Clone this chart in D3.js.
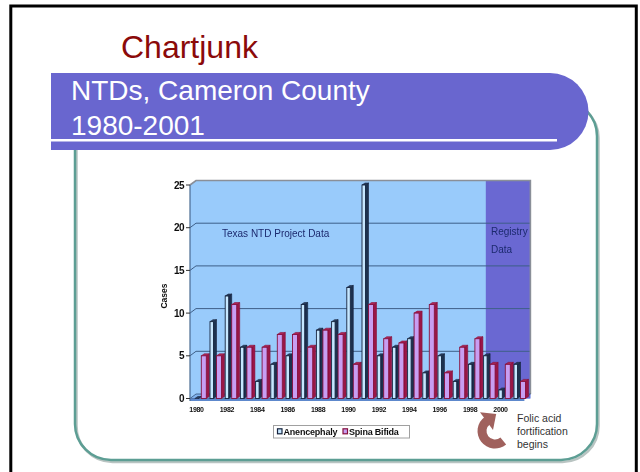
<!DOCTYPE html>
<html>
<head>
<meta charset="utf-8">
<script src="https://cdn.jsdelivr.net/npm/d3@7"></script>
<style>
  html, body { margin: 0; padding: 0; background: #fff; }
  svg { display: block; }
</style>
</head>
<body>
<svg id="chart" width="640" height="472"></svg>
<script>
// Neural tube defect cases, Cameron County, Texas
const years = ["1980","1981","1982","1983","1984","1985","1986","1987","1988","1989","1990",
               "1991","1992","1993","1994","1995","1996","1997","1998","1999","2000","2001"];
const anencephaly = [0, 9, 12, 6, 2, 4, 5, 11, 8, 9, 13, 25, 5, 6, 7, 3, 5, 2, 4, 5, 1, 4];
const spinaBifida = [5, 5, 11, 6, 6, 7.5, 7.5, 6, 8, 7.5, 4, 11, 7, 6.5, 10, 11, 3, 6, 7, 4, 4, 2];
const yTicks = [0, 5, 10, 15, 20, 25];
const xTickLabels = ["1980","1982","1984","1986","1988","1990","1992","1994","1996","1998","2000"];
const registryStart = "1999";
const seriesNames = ["Anencephaly", "Spina Bifida"];

(function draw() {
const FONT = "'Liberation Sans', Arial, Helvetica, sans-serif";
const svg = d3.select("#chart");

const defs = svg.append("defs");
defs.append("filter").attr("id", "soft")
  .attr("x", "-5%").attr("y", "-5%").attr("width", "110%").attr("height", "110%")
  .append("feGaussianBlur").attr("stdDeviation", 0.4);

// ---- slide frame ----
svg.append("path")
  .attr("d", "M10.8,472 V6 H636.3 V472")
  .attr("fill", "none").attr("stroke", "#000").attr("stroke-width", 3);

// rounded content frame (shadow + teal line)
svg.append("rect")
  .attr("x", 76.5).attr("y", 102).attr("width", 522).attr("height", 360).attr("rx", 36)
  .attr("fill", "none").attr("stroke", "#b9c4c2").attr("stroke-width", 2.5);
svg.append("rect")
  .attr("x", 75).attr("y", 100).attr("width", 522).attr("height", 360).attr("rx", 36)
  .attr("fill", "none").attr("stroke", "#5d9e94").attr("stroke-width", 2.5);

// title banner
svg.append("path")
  .attr("d", "M51,73 H550 A38.5,38.5 0 0 1 550,150 H51 Z")
  .attr("fill", "#6966cf");
svg.append("rect").attr("x", 51).attr("y", 139).attr("width", 506).attr("height", 2.5).attr("fill", "#fff");

svg.append("text").attr("x", 71).attr("y", 100)
  .attr("font-family", FONT).attr("font-size", 28).attr("fill", "#fff")
  .text("NTDs, Cameron County");
svg.append("text").attr("x", 71).attr("y", 135)
  .attr("font-family", FONT).attr("font-size", 28).attr("fill", "#fff")
  .text("1980-2001");

svg.append("text").attr("x", 121).attr("y", 58)
  .attr("font-family", FONT).attr("font-size", 32).attr("fill", "#8b0a0a")
  .text("Chartjunk");

// ---- chart ----
const g = svg.append("g").attr("filter", "url(#soft)");

const x = d3.scaleBand().domain(years).range([190, 190 + years.length * 15.2]).padding(0);
const y = d3.scaleLinear().domain([0, 25]).range([398.5, 185]);
const DX = 6, DY = -4.5;          // back-wall offset
const wallL = x.range()[0], wallR = x.range()[1] + DX;
const wallT = y(25) + DY, y0 = y(0);

// back wall + side wall
g.append("polygon")
  .attr("points", [[wallL, y0], [wallL, y(25)], [wallL + DX, wallT], [wallR, wallT], [wallR, y0]].join(" "))
  .attr("fill", "#99cbfb");

// registry period shading
const regX = x(registryStart) + 7;
g.append("rect").attr("x", regX).attr("y", wallT).attr("width", wallR - regX).attr("height", y0 - wallT)
  .attr("fill", "#6a68d2");

// gridlines on the wall
g.selectAll("path.grid").data(yTicks.filter(v => v > 0 && v < 25)).join("path")
  .attr("class", "grid")
  .attr("d", v => `M${wallL},${y(v)} L${wallL + DX},${y(v) + DY} H${wallR}`)
  .attr("fill", "none").attr("stroke", "#3e5f88").attr("stroke-width", 1);
g.append("path")
  .attr("d", `M${wallL},${y(25)} L${wallL + DX},${wallT} H${wallR} V${y0 + DY}`)
  .attr("fill", "none").attr("stroke", "#8a8f98").attr("stroke-width", 1.6);

// floor
g.append("polygon")
  .attr("points", [[wallL, y0], [wallL + DX, y0 + DY], [wallR, y0 + DY], [wallR - DX, y0]].join(" "))
  .attr("fill", "#80b3ee").attr("stroke", "#34507a").attr("stroke-width", 0.8);
g.append("rect").attr("x", wallL).attr("y", y0).attr("width", x.range()[1] - wallL).attr("height", 2.5)
  .attr("fill", "#5d88cc");

// value axis
g.append("path").attr("d", `M${wallL},${y(25)} V${y0 + 2.5}`)
  .attr("stroke", "#4a6a92").attr("stroke-width", 1.2);
g.selectAll("path.tick").data(yTicks).join("path").attr("class", "tick")
  .attr("d", v => `M${wallL - 4},${y(v)} H${wallL}`)
  .attr("stroke", "#333").attr("stroke-width", 1);
g.selectAll("text.ylab").data(yTicks).join("text").attr("class", "ylab")
  .attr("x", 184).attr("y", v => y(v) + 3.5).attr("text-anchor", "end")
  .attr("font-family", FONT).attr("font-size", 10).attr("font-weight", "bold").attr("fill", "#111")
  .attr("letter-spacing", -0.5)
  .text(d => d);
g.append("text").attr("transform", "translate(167,296) rotate(-90)").attr("text-anchor", "middle")
  .attr("font-family", FONT).attr("font-size", 8.5).attr("font-weight", "bold").attr("fill", "#111")
  .text("Cases");

// 3D columns
const FACE_A = 3.5, FACE_S = 5, DEP = 3, RISE = 2;
function column(sel, x0, w, v, c) {
  const yt = y(v);
  sel.append("polygon")
    .attr("points", [[x0 + w, yt], [x0 + w + DEP, yt - RISE], [x0 + w + DEP, y0 - RISE], [x0 + w, y0]].join(" "))
    .attr("fill", c.side).attr("stroke", c.line).attr("stroke-width", 0.6);
  sel.append("polygon")
    .attr("points", [[x0, yt], [x0 + DEP, yt - RISE], [x0 + w + DEP, yt - RISE], [x0 + w, yt]].join(" "))
    .attr("fill", c.top).attr("stroke", c.line).attr("stroke-width", 0.6);
  sel.append("rect").attr("x", x0).attr("y", yt).attr("width", w).attr("height", y0 - yt)
    .attr("fill", c.face).attr("stroke", c.line).attr("stroke-width", 0.9);
}
const colA = { face: "#c6e7ff", side: "#1e3050", top: "#2b3f60", line: "#16243e" };
const colS = { face: "#c89ef2", side: "#9a1646", top: "#b02656", line: "#86103c" };

const bars = g.append("g");
years.forEach((yr, i) => {
  const a = x(yr) + 4.8;
  column(bars, a, FACE_A, anencephaly[i], colA);
  column(bars, a + FACE_A + DEP, FACE_S, spinaBifida[i], colS);
});

// category labels
g.selectAll("text.xlab").data(xTickLabels).join("text").attr("class", "xlab")
  .attr("x", d => x(d) + 6.5).attr("y", 411.5).attr("text-anchor", "middle")
  .attr("font-family", FONT).attr("font-size", 7).attr("font-weight", "bold").attr("fill", "#111")
  .attr("letter-spacing", -0.3)
  .text(d => d);

// period annotations
g.append("text").attr("x", 222).attr("y", 237)
  .attr("font-family", FONT).attr("font-size", 10).attr("fill", "#1c2a6e")
  .text("Texas NTD Project Data");
g.append("text").attr("x", 491).attr("y", 235)
  .attr("font-family", FONT).attr("font-size", 10).attr("fill", "#1c2a6e").text("Registry");
g.append("text").attr("x", 491).attr("y", 253)
  .attr("font-family", FONT).attr("font-size", 10).attr("fill", "#1c2a6e").text("Data");

// legend
const lg = g.append("g");
lg.append("rect").attr("x", 273.5).attr("y", 425.5).attr("width", 136).attr("height", 12.5)
  .attr("fill", "#fff").attr("stroke", "#a0a0a0").attr("stroke-width", 1);
const legendItems = [
  { name: seriesNames[0], c: colA, mx: 277.5, tx: 283.5 },
  { name: seriesNames[1], c: colS, mx: 343, tx: 349 }
];
legendItems.forEach(it => {
  lg.append("rect").attr("x", it.mx).attr("y", 428.8).attr("width", 4.5).attr("height", 5)
    .attr("fill", it.c.face).attr("stroke", it.c.line).attr("stroke-width", 1.2);
  lg.append("text").attr("x", it.tx).attr("y", 435)
    .attr("font-family", FONT).attr("font-size", 9).attr("font-weight", "bold").attr("fill", "#111")
    .attr("letter-spacing", -0.2)
    .text(it.name);
});

// fortification note with curved arrow
const cx = 495, cy = 431;
const a0 = 2.45, a1 = 5.65;
svg.append("path")
  .attr("transform", `translate(${cx},${cy})`)
  .attr("d", d3.arc().innerRadius(8.5).outerRadius(17.5).startAngle(a0).endAngle(a1)())
  .attr("fill", "#a0615d");
{
  const rm = 13, hw = 11, len = 11;
  const px = cx + rm * Math.sin(a1), py = cy - rm * Math.cos(a1);
  const rx = Math.sin(a1), ry = -Math.cos(a1);   // radial direction
  const tx = Math.cos(a1), ty = Math.sin(a1);    // tangent direction
  svg.append("polygon")
    .attr("points", [
      [px + rx * hw - tx * 1, py + ry * hw - ty * 1],
      [px - rx * hw - tx * 1, py - ry * hw - ty * 1],
      [px + tx * len, py + ty * len]
    ].join(" "))
    .attr("fill", "#a0615d");
}
["Folic acid", "fortification", "begins"].forEach((t, i) => {
  svg.append("text").attr("x", 517).attr("y", 421.5 + i * 13)
    .attr("font-family", FONT).attr("font-size", 10.5).attr("fill", "#333").text(t);
});
})();
</script>
</body>
</html>
